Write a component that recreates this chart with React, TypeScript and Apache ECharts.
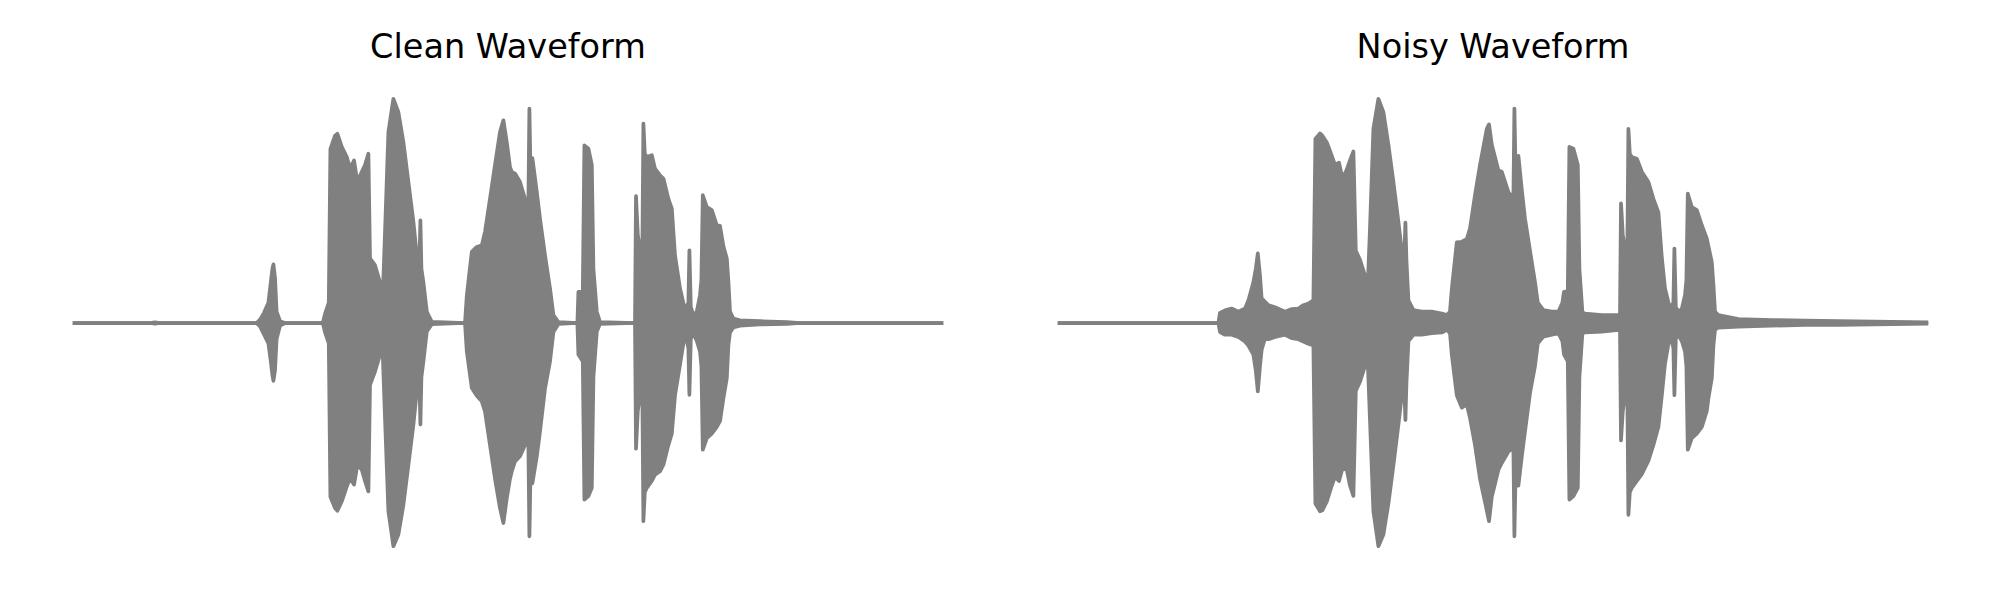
import React, { useEffect, useRef } from "react";
import * as echarts from "echarts";

// Time axis in milliseconds, amplitude envelope (upper / lower)
const cleanTime = [
  8, 385, 410, 435, 918, 935, 955, 977, 989, 997,
  1002, 1010, 1018, 1035, 1060, 1249, 1260, 1279, 1287, 1310,
  1322, 1344, 1369, 1385, 1405, 1422, 1444, 1460, 1477, 1485,
  1510, 1535, 1549, 1560, 1577, 1602, 1627, 1652, 1677, 1702,
  1719, 1732, 1737, 1742, 1752, 1769, 1794, 1960, 1969, 1994,
  2019, 2044, 2060, 2085, 2110, 2135, 2152, 2169, 2185, 2194,
  2210, 2235, 2260, 2277, 2282, 2289, 2297, 2319, 2335, 2360,
  2385, 2402, 2427, 2522, 2527, 2549, 2557, 2577, 2594, 2602,
  2619, 2635, 2810, 2815, 2824, 2835, 2847, 2852, 2859, 2869,
  2894, 2910, 2935, 2952, 2977, 2994, 3010, 3035, 3060, 3077,
  3082, 3089, 3102, 3119, 3135, 3142, 3149, 3169, 3194, 3219,
  3235, 3252, 3269, 3277, 3285, 3302, 3335, 3435, 3569, 3635, 4342,
];
const cleanUpper = [
  0, 0, 0.003, 0, 0, 0.015, 0.045, 0.09, 0.18, 0.24,
  0.26, 0.2, 0.05, 0.008, 0, 0, 0.04, 0.09, 0.77, 0.83,
  0.838, 0.78, 0.735, 0.684, 0.72, 0.625, 0.67, 0.7, 0.75, 0.286,
  0.256, 0.18, 0.12, 0.4, 0.846, 0.993, 0.934, 0.8, 0.625, 0.448,
  0.3, 0.26, 0.455, 0.24, 0.18, 0.05, 0.005, 0, 0.12, 0.315,
  0.337, 0.344, 0.404, 0.55, 0.7, 0.846, 0.898, 0.8, 0.69, 0.67,
  0.662, 0.625, 0.55, 0.54, 0.95, 0.59, 0.73, 0.58, 0.462, 0.3,
  0.153, 0.035, 0.004, 0, 0.138, 0.138, 0.787, 0.772, 0.7, 0.24,
  0.05, 0.004, 0, 0.562, 0.39, 0.33, 0.34, 0.883, 0.75, 0.735,
  0.743, 0.684, 0.654, 0.64, 0.55, 0.507, 0.3, 0.153, 0.057, 0.09,
  0.322, 0.07, 0.035, 0.05, 0.123, 0.19, 0.566, 0.514, 0.5, 0.433,
  0.43, 0.34, 0.286, 0.182, 0.05, 0.02, 0.012, 0.008, 0.004, 0, 0,
];
const cleanLower = [
  0, 0, -0.003, 0, 0, -0.015, -0.05, -0.09, -0.17, -0.23,
  -0.256, -0.21, -0.07, -0.012, 0, 0, -0.04, -0.09, -0.77, -0.82,
  -0.832, -0.79, -0.724, -0.687, -0.716, -0.628, -0.65, -0.7, -0.746, -0.274,
  -0.215, -0.14, -0.14, -0.42, -0.834, -0.989, -0.937, -0.805, -0.628, -0.45,
  -0.3, -0.26, -0.45, -0.24, -0.17, -0.038, -0.005, 0, -0.125, -0.288,
  -0.322, -0.347, -0.392, -0.54, -0.69, -0.82, -0.886, -0.775, -0.69, -0.657,
  -0.613, -0.59, -0.54, -0.54, -0.945, -0.59, -0.71, -0.59, -0.48, -0.29,
  -0.17, -0.04, -0.004, 0, -0.14, -0.17, -0.782, -0.767, -0.73, -0.24,
  -0.038, -0.004, 0, -0.557, -0.39, -0.318, -0.33, -0.878, -0.75, -0.73,
  -0.7, -0.672, -0.657, -0.628, -0.54, -0.49, -0.32, -0.185, -0.045, -0.11,
  -0.318, -0.07, -0.045, -0.08, -0.126, -0.19, -0.561, -0.51, -0.49, -0.46,
  -0.435, -0.333, -0.244, -0.097, -0.042, -0.02, -0.012, -0.006, -0.004, 0, 0,
];

const noisyTime = [
  8, 802, 810, 835, 868, 902, 935, 952, 977, 989,
  999, 1010, 1018, 1035, 1052, 1085, 1135, 1169, 1202, 1227,
  1252, 1277, 1287, 1310, 1322, 1344, 1369, 1385, 1405, 1422,
  1444, 1460, 1477, 1489, 1510, 1535, 1549, 1560, 1577, 1602,
  1627, 1652, 1677, 1702, 1719, 1732, 1737, 1742, 1752, 1777,
  1819, 1869, 1919, 1944, 1960, 1969, 1994, 2019, 2044, 2060,
  2085, 2110, 2144, 2155, 2169, 2202, 2219, 2252, 2277, 2282,
  2289, 2302, 2319, 2335, 2360, 2385, 2399, 2427, 2469, 2502,
  2522, 2530, 2549, 2557, 2577, 2599, 2607, 2622, 2635, 2719,
  2802, 2810, 2815, 2824, 2835, 2847, 2852, 2859, 2869, 2894,
  2919, 2952, 2977, 3002, 3019, 3035, 3060, 3077, 3082, 3089,
  3102, 3119, 3135, 3142, 3149, 3169, 3194, 3219, 3244, 3252,
  3269, 3277, 3285, 3302, 3402, 3569, 3735, 3902, 4342,
];
const noisyUpper = [
  0, 0, 0.045, 0.056, 0.064, 0.05, 0.064, 0.1, 0.18, 0.24,
  0.308, 0.21, 0.11, 0.094, 0.079, 0.07, 0.05, 0.062, 0.064, 0.079,
  0.086, 0.1, 0.815, 0.84, 0.83, 0.8, 0.74, 0.7, 0.71, 0.64,
  0.68, 0.72, 0.76, 0.32, 0.28, 0.21, 0.17, 0.42, 0.86, 0.993,
  0.934, 0.79, 0.625, 0.448, 0.32, 0.3, 0.445, 0.28, 0.1, 0.057,
  0.05, 0.05, 0.042, 0.035, 0.05, 0.15, 0.357, 0.36, 0.372, 0.418,
  0.566, 0.7, 0.86, 0.88, 0.79, 0.676, 0.67, 0.58, 0.55, 0.95,
  0.61, 0.74, 0.59, 0.462, 0.32, 0.18, 0.09, 0.057, 0.05, 0.05,
  0.09, 0.138, 0.14, 0.78, 0.772, 0.7, 0.24, 0.047, 0.042, 0.035,
  0.035, 0.037, 0.53, 0.39, 0.33, 0.35, 0.86, 0.75, 0.735, 0.728,
  0.67, 0.625, 0.55, 0.49, 0.29, 0.153, 0.062, 0.09, 0.33, 0.07,
  0.05, 0.062, 0.123, 0.19, 0.573, 0.514, 0.5, 0.433, 0.374, 0.34,
  0.27, 0.17, 0.05, 0.035, 0.017, 0.013, 0.01, 0.008, 0.003,
];
const noisyLower = [
  0, 0, -0.04, -0.052, -0.052, -0.062, -0.082, -0.1, -0.14, -0.21,
  -0.303, -0.19, -0.12, -0.067, -0.072, -0.062, -0.052, -0.067, -0.072, -0.082,
  -0.092, -0.1, -0.8, -0.834, -0.83, -0.79, -0.72, -0.68, -0.7, -0.645,
  -0.65, -0.72, -0.766, -0.3, -0.26, -0.19, -0.17, -0.43, -0.834, -0.989,
  -0.937, -0.8, -0.63, -0.45, -0.32, -0.3, -0.43, -0.27, -0.08, -0.052,
  -0.052, -0.045, -0.042, -0.03, -0.045, -0.14, -0.32, -0.375, -0.36, -0.42,
  -0.54, -0.69, -0.83, -0.878, -0.77, -0.65, -0.62, -0.57, -0.55, -0.945,
  -0.61, -0.72, -0.59, -0.48, -0.31, -0.19, -0.09, -0.06, -0.052, -0.045,
  -0.08, -0.14, -0.17, -0.782, -0.767, -0.73, -0.24, -0.045, -0.042, -0.038,
  -0.03, -0.032, -0.52, -0.39, -0.32, -0.34, -0.85, -0.75, -0.73, -0.7,
  -0.67, -0.61, -0.54, -0.46, -0.32, -0.18, -0.052, -0.11, -0.32, -0.07,
  -0.052, -0.08, -0.126, -0.19, -0.561, -0.51, -0.49, -0.46, -0.39, -0.333,
  -0.244, -0.1, -0.03, -0.02, -0.016, -0.012, -0.008, -0.008, -0.003,
];

const titles = ["Clean Waveform", "Noisy Waveform"];

const GRAY = "#808080";
const FONT = "DejaVu Sans";

function envelopeSeries(time: number[], values: number[], idx: number) {
  return {
    type: "line",
    xAxisIndex: idx,
    yAxisIndex: idx,
    data: time.map((t, k) => [t, values[k]]),
    showSymbol: false,
    symbol: "none",
    silent: true,
    lineStyle: { color: GRAY, width: 3.75, cap: "square", join: "round" },
    areaStyle: { color: GRAY, opacity: 1, origin: "auto" },
  };
}

export default function App() {
  const ref = useRef<HTMLDivElement>(null);
  useEffect(() => {
    document.body.style.margin = "0";
    if (!ref.current) return;
    const chart = echarts.init(ref.current, undefined, { renderer: "svg" });
    const grids = [
      { left: 73, top: 86, width: 870, height: 474 },
      { left: 1058, top: 86, width: 870, height: 474 },
    ];
    chart.setOption({
      animation: false,
      backgroundColor: "#ffffff",
      grid: grids,
      xAxis: grids.map((_, i) => ({
        type: "value",
        gridIndex: i,
        min: 0,
        max: 4350,
        show: false,
      })),
      yAxis: grids.map((_, i) => ({
        type: "value",
        gridIndex: i,
        min: -1.05,
        max: 1.05,
        show: false,
      })),
      graphic: titles.map((t, i) => ({
        type: "text",
        x: grids[i].left + grids[i].width / 2,
        y: 46,
        style: {
          text: t,
          fontSize: 33.5,
          fontFamily: FONT,
          fill: "#000000",
          textAlign: "center",
          textVerticalAlign: "middle",
          align: "center",
          verticalAlign: "middle",
        },
      })),
      series: [
        envelopeSeries(cleanTime, cleanUpper, 0),
        envelopeSeries(cleanTime, cleanLower, 0),
        envelopeSeries(noisyTime, noisyUpper, 1),
        envelopeSeries(noisyTime, noisyLower, 1),
      ],
    });
    return () => chart.dispose();
  }, []);
  return <div ref={ref} style={{ width: 2000, height: 600 }} />;
}
